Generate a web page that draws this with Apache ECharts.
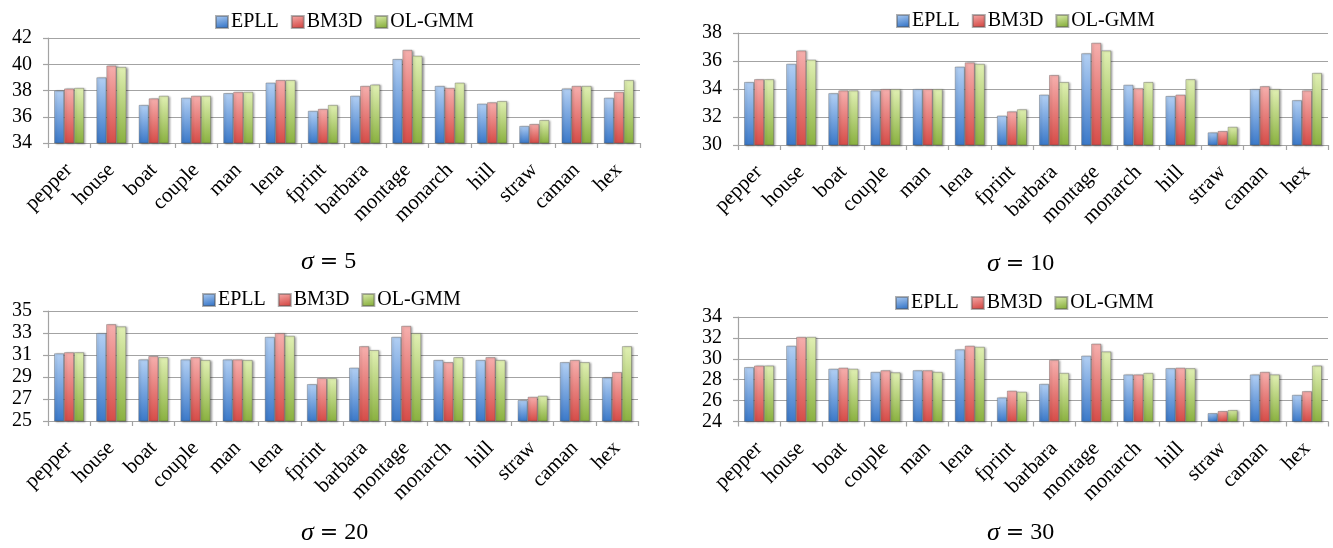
<!DOCTYPE html>
<html>
<head>
<meta charset="utf-8">
<title>PSNR comparison</title>
<script src="https://cdn.jsdelivr.net/npm/echarts@6/dist/echarts.min.js"></script>
<style>
  html, body { margin: 0; padding: 0; background: #fff; }
  #chart { width: 1333px; height: 548px; }
</style>
</head>
<body>
<div id="chart"></div>
<script>
// Test images, one bar group per image
const categories = ['pepper', 'house', 'boat', 'couple', 'man', 'lena', 'fprint',
  'barbara', 'montage', 'monarch', 'hill', 'straw', 'caman', 'hex'];
const methods = ['EPLL', 'BM3D', 'OL-GMM'];

// PSNR (dB), sigma = 5
const eplls5  = [38.0, 39.0, 36.9, 37.45, 37.8, 38.6, 36.45, 37.6, 40.4, 38.35, 37.0, 35.3, 38.15, 37.45];
const bm3ds5  = [38.15, 39.9, 37.4, 37.6, 37.9, 38.8, 36.6, 38.35, 41.1, 38.2, 37.1, 35.45, 38.35, 37.9];
const olgmms5 = [38.2, 39.8, 37.6, 37.6, 37.9, 38.8, 36.9, 38.45, 40.65, 38.6, 37.2, 35.75, 38.35, 38.8];

// PSNR (dB), sigma = 10
const eplls10  = [34.5, 35.8, 33.7, 33.9, 34.0, 35.6, 32.1, 33.6, 36.55, 34.3, 33.5, 30.9, 34.0, 33.2];
const bm3ds10  = [34.7, 36.75, 33.9, 34.0, 34.0, 35.9, 32.4, 35.0, 37.3, 34.05, 33.6, 31.0, 34.2, 33.9];
const olgmms10 = [34.7, 36.1, 33.9, 34.0, 34.0, 35.8, 32.55, 34.5, 36.75, 34.5, 34.7, 31.3, 34.0, 35.15];

// PSNR (dB), sigma = 20
const eplls20  = [31.15, 33.0, 30.6, 30.6, 30.6, 32.65, 28.35, 29.85, 32.65, 30.55, 30.55, 26.9, 30.35, 28.95];
const bm3ds20  = [31.25, 33.8, 30.9, 30.8, 30.6, 33.0, 28.9, 31.8, 33.65, 30.35, 30.8, 27.2, 30.55, 29.45];
const olgmms20 = [31.25, 33.6, 30.8, 30.55, 30.55, 32.75, 28.9, 31.45, 33.0, 30.8, 30.55, 27.3, 30.35, 31.8];

// PSNR (dB), sigma = 30
const eplls30  = [29.2, 31.25, 29.05, 28.75, 28.9, 30.9, 26.3, 27.6, 30.3, 28.5, 29.1, 24.8, 28.5, 26.55];
const bm3ds30  = [29.35, 32.1, 29.15, 28.9, 28.9, 31.25, 26.95, 29.9, 31.45, 28.5, 29.15, 25.0, 28.75, 26.9];
const olgmms30 = [29.35, 32.1, 29.05, 28.7, 28.75, 31.15, 26.85, 28.65, 30.7, 28.65, 29.1, 25.1, 28.5, 29.35];

// Y-axis ranges per panel: [min, max, step]
const yRanges = [[34, 42, 2], [30, 38, 2], [25, 35, 2], [24, 34, 2]];
const sigmaLabels = ['5', '10', '20', '30'];

const panelData = [
  [eplls5, bm3ds5, olgmms5],
  [eplls10, bm3ds10, olgmms10],
  [eplls20, bm3ds20, olgmms20],
  [eplls30, bm3ds30, olgmms30]
];

// Panel geometry
const grids = [
  { left: 48,  top: 38,  width: 592, height: 105 },
  { left: 738, top: 33,  width: 590, height: 112 },
  { left: 48,  top: 311, width: 590, height: 110 },
  { left: 738, top: 317, width: 590, height: 104.5 }
];
const legendPos = [
  { left: 210, top: 7 },
  { left: 891, top: 6 },
  { left: 197, top: 285 },
  { left: 890, top: 288 }
];
const captionPos = [
  { left: 296, top: 244 },
  { left: 982, top: 246 },
  { left: 296, top: 515 },
  { left: 982, top: 515 }
];

const SERIF = '"Liberation Serif", "Times New Roman", serif';
const GRID_GRAY = '#a3a3a3';

function grad(top, bottom) {
  return new echarts.graphic.LinearGradient(0, 0, 0.25, 1, [
    { offset: 0, color: top },
    { offset: 1, color: bottom }
  ]);
}
const fills = [
  grad('#b3d0f4', '#3b79c9'),
  grad('#f6b0ae', '#d64c48'),
  grad('#e1f0b4', '#8ab140')
];

const option = {
  animation: false,
  backgroundColor: '#ffffff',
  title: captionPos.map((p, i) => ({
    text: '{s|σ} {e|=} ' + sigmaLabels[i],
    left: p.left,
    top: p.top,
    textStyle: {
      fontFamily: SERIF,
      fontSize: 24,
      fontWeight: 'normal',
      color: '#000',
      rich: {
        s: { fontFamily: SERIF, fontStyle: 'italic', fontSize: 26, color: '#000' },
        e: { fontFamily: '"DejaVu Serif", serif', fontSize: 22, color: '#000' }
      }
    }
  })),
  legend: legendPos.map(p => ({
    data: methods,
    left: p.left,
    top: p.top,
    orient: 'horizontal',
    icon: 'rect',
    itemWidth: 12,
    itemHeight: 12,
    itemGap: 12,
    textStyle: { fontFamily: SERIF, fontSize: 20, color: '#000', padding: [0, 0, 0, -2] },
    selectedMode: false
  })),
  grid: grids.map(g => Object.assign({ containLabel: false }, g)),
  xAxis: grids.map((g, i) => ({
    type: 'category',
    gridIndex: i,
    data: categories,
    axisLine: { show: true, lineStyle: { color: GRID_GRAY, width: 1.2 } },
    axisTick: { show: true, length: 5, lineStyle: { color: GRID_GRAY, width: 1.2 } },
    axisLabel: {
      rotate: 45,
      interval: 0,
      margin: 24,
      fontFamily: SERIF,
      fontSize: 21,
      color: '#000'
    }
  })),
  yAxis: yRanges.map((r, i) => ({
    type: 'value',
    gridIndex: i,
    min: r[0],
    max: r[1],
    interval: r[2],
    axisLine: { show: true, lineStyle: { color: GRID_GRAY, width: 1.2 } },
    axisTick: { show: true, length: 5, lineStyle: { color: GRID_GRAY, width: 1.2 } },
    splitLine: { show: true, lineStyle: { color: GRID_GRAY, width: 1.2 } },
    axisLabel: {
      margin: 16,
      fontFamily: SERIF,
      fontSize: 20,
      color: '#000'
    }
  })),
  series: []
};

panelData.forEach((vals, p) => {
  vals.forEach((arr, m) => {
    option.series.push({
      type: 'bar',
      name: methods[m],
      xAxisIndex: p,
      yAxisIndex: p,
      data: arr,
      barWidth: 10,
      barGap: '0%',
      itemStyle: {
        color: fills[m],
        borderColor: 'rgba(80,80,80,0.45)',
        borderWidth: 0.8,
        shadowColor: 'rgba(0,0,0,0.35)',
        shadowBlur: 2,
        shadowOffsetX: 1.5,
        shadowOffsetY: 0.5
      }
    });
  });
});

const chart = echarts.init(document.getElementById('chart'), null, { renderer: 'canvas' });
chart.setOption(option);
</script>
</body>
</html>
